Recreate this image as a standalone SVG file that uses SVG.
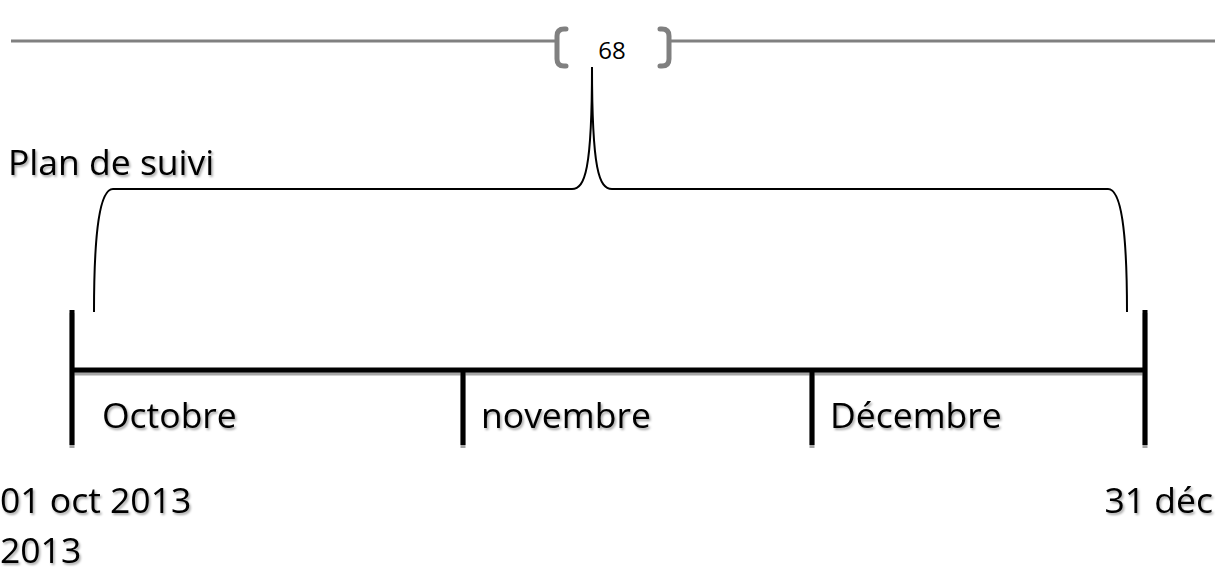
<svg xmlns="http://www.w3.org/2000/svg" width="1227" height="573" viewBox="0 0 1227 573">
  <defs>
    <filter id="txtShadow" x="-5%" y="-20%" width="110%" height="150%">
      <feDropShadow dx="1.5" dy="2" stdDeviation="0.8" flood-color="#000" flood-opacity="0.35"/>
    </filter>
  </defs>
  <style>
    .lbl { font-family: "Open Sans", "Noto Sans", sans-serif; font-size: 35.5px; fill: #000; filter: url(#txtShadow); }
    .num { font-family: "Open Sans", "Noto Sans", sans-serif; font-size: 24px; fill: #000; }
    .rule { stroke: #808080; stroke-width: 3; fill: none; }
    .brk { stroke: #808080; stroke-width: 5; fill: none; stroke-linecap: round; }
    .brace { stroke: #000; stroke-width: 2; fill: none; }
    .bar { stroke: #000; stroke-width: 5; fill: none; }
    .barShade { stroke: #a6a6a6; stroke-width: 5; fill: none; }
  </style>

  <!-- header rule with bracketed count -->
  <g id="header">
    <line class="rule" x1="11" y1="41" x2="556" y2="41"/>
    <line class="rule" x1="669" y1="41" x2="1215" y2="41"/>
    <path class="brk" d="M566,29 L564,29 Q557,29 557,36 L557,59 Q557,66 564,66 L566,66"/>
    <path class="brk" d="M660,29 L662,29 Q669,29 669,36 L669,59 Q669,66 662,66 L660,66"/>
    <text class="num" x="612" y="59" text-anchor="middle">68</text>
  </g>

  <!-- curly brace spanning the period -->
  <g id="brace">
    <path class="brace" d="M94,312 C94,230 100,189 113,189 L572,189 C585,189 592,170 592,67 C592,170 599,189 612,189 L1108,189 C1121,189 1127,230 1127,312"/>
  </g>

  <g id="title">
    <text class="lbl" x="8" y="175">Plan de suivi</text>
  </g>

  <!-- timeline bar, shade first -->
  <g id="timeline-shade">
    <line class="barShade" x1="72" y1="373" x2="1145" y2="373"/>
    <line class="barShade" x1="72" y1="313" x2="72" y2="448"/>
    <line class="barShade" x1="463" y1="373" x2="463" y2="448"/>
    <line class="barShade" x1="812" y1="373" x2="812" y2="448"/>
    <line class="barShade" x1="1145" y1="313" x2="1145" y2="448"/>
  </g>
  <g id="timeline">
    <line class="bar" x1="72" y1="370" x2="1145" y2="370"/>
    <line class="bar" x1="72" y1="310" x2="72" y2="445"/>
    <line class="bar" x1="463" y1="370" x2="463" y2="445"/>
    <line class="bar" x1="812" y1="370" x2="812" y2="445"/>
    <line class="bar" x1="1145" y1="310" x2="1145" y2="445"/>
  </g>

  <g id="month-oct"><text class="lbl" x="102" y="428">Octobre</text></g>
  <g id="month-nov"><text class="lbl" x="481" y="428">novembre</text></g>
  <g id="month-dec"><text class="lbl" x="830" y="428">Décembre</text></g>

  <g id="start-date">
    <text class="lbl" x="0" y="513">01 oct 2013</text>
    <text class="lbl" x="0" y="563">2013</text>
  </g>
  <g id="end-date">
    <text class="lbl" x="1213" y="513" text-anchor="end">31 déc</text>
  </g>
</svg>
